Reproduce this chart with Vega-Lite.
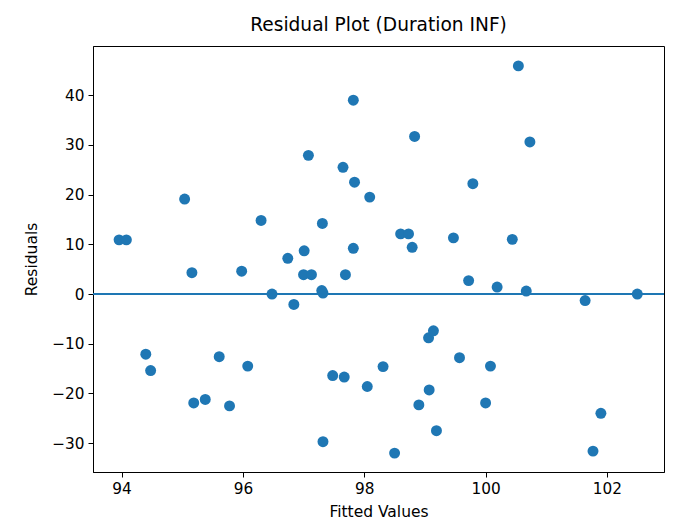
{
  "$schema": "https://vega.github.io/schema/vega-lite/v6.json",
  "width": 571,
  "height": 426,
  "autosize": {"type": "none"},
  "padding": {"left": 93, "top": 46, "right": 14, "bottom": 57},
  "background": "white",
  "title": {"text": "Residual Plot (Duration INF)", "font": "DejaVu Sans", "fontSize": 18.6, "fontWeight": "normal", "color": "black", "offset": 11, "anchor": "middle"},
  "config": {
    "view": {"stroke": "black", "strokeWidth": 1},
    "axis": {"grid": false, "domainColor": "black", "tickColor": "black", "tickSize": 5, "labelFont": "DejaVu Sans", "labelFontSize": 15.3, "labelColor": "black", "titleFont": "DejaVu Sans", "titleFontSize": 15.5, "titleFontWeight": "normal", "titleColor": "black", "labelPadding": 4}
  },
  "data": {"values": [
    {"fitted": 93.96, "resid": 10.9},
    {"fitted": 94.08, "resid": 10.9},
    {"fitted": 95.04, "resid": 19.1},
    {"fitted": 95.16, "resid": 4.3},
    {"fitted": 94.40, "resid": -12.1},
    {"fitted": 94.48, "resid": -15.4},
    {"fitted": 95.19, "resid": -21.9},
    {"fitted": 95.38, "resid": -21.2},
    {"fitted": 95.61, "resid": -12.6},
    {"fitted": 95.78, "resid": -22.5},
    {"fitted": 95.98, "resid": 4.6},
    {"fitted": 96.08, "resid": -14.5},
    {"fitted": 96.30, "resid": 14.8},
    {"fitted": 96.48, "resid": 0.0},
    {"fitted": 96.74, "resid": 7.2},
    {"fitted": 96.84, "resid": -2.1},
    {"fitted": 97.01, "resid": 8.7},
    {"fitted": 97.00, "resid": 3.9},
    {"fitted": 97.08, "resid": 27.9},
    {"fitted": 97.13, "resid": 3.9},
    {"fitted": 97.31, "resid": 14.2},
    {"fitted": 97.30, "resid": 0.7},
    {"fitted": 97.32, "resid": 0.2},
    {"fitted": 97.32, "resid": -29.7},
    {"fitted": 97.48, "resid": -16.4},
    {"fitted": 97.65, "resid": 25.5},
    {"fitted": 97.69, "resid": 3.9},
    {"fitted": 97.67, "resid": -16.7},
    {"fitted": 97.82, "resid": 39.0},
    {"fitted": 97.84, "resid": 22.5},
    {"fitted": 97.82, "resid": 9.2},
    {"fitted": 98.05, "resid": -18.6},
    {"fitted": 98.09, "resid": 19.5},
    {"fitted": 98.31, "resid": -14.6},
    {"fitted": 98.50, "resid": -32.0},
    {"fitted": 98.60, "resid": 12.1},
    {"fitted": 98.73, "resid": 12.1},
    {"fitted": 98.79, "resid": 9.4},
    {"fitted": 98.83, "resid": 31.7},
    {"fitted": 98.90, "resid": -22.3},
    {"fitted": 99.06, "resid": -8.8},
    {"fitted": 99.07, "resid": -19.3},
    {"fitted": 99.14, "resid": -7.4},
    {"fitted": 99.19, "resid": -27.5},
    {"fitted": 99.47, "resid": 11.3},
    {"fitted": 99.57, "resid": -12.8},
    {"fitted": 99.72, "resid": 2.7},
    {"fitted": 99.79, "resid": 22.2},
    {"fitted": 100.00, "resid": -21.9},
    {"fitted": 100.08, "resid": -14.5},
    {"fitted": 100.19, "resid": 1.4},
    {"fitted": 100.44, "resid": 11.0},
    {"fitted": 100.54, "resid": 45.9},
    {"fitted": 100.67, "resid": 0.6},
    {"fitted": 100.73, "resid": 30.6},
    {"fitted": 101.64, "resid": -1.3},
    {"fitted": 101.77, "resid": -31.6},
    {"fitted": 101.90, "resid": -24.0},
    {"fitted": 102.50, "resid": 0.0}
  ]},
  "layer": [
    {
      "mark": {"type": "point", "filled": true, "opacity": 1, "size": 120, "color": "#1f77b4", "shape": "circle"},
      "encoding": {
        "x": {"field": "fitted", "type": "quantitative", "title": "Fitted Values",
              "scale": {"domain": [93.53, 102.94], "nice": false, "zero": false},
              "axis": {"values": [94, 96, 98, 100, 102], "format": "d", "titlePadding": 8}},
        "y": {"field": "resid", "type": "quantitative", "title": "Residuals",
              "scale": {"domain": [-35.8, 49.9], "nice": false, "zero": false},
              "axis": {"values": [-30, -20, -10, 0, 10, 20, 30, 40], "format": "d", "titlePadding": 12}}
      }
    },
    {
      "mark": {"type": "rule", "color": "#1f77b4", "strokeWidth": 1.5},
      "encoding": {"y": {"datum": 0}}
    }
  ]
}
